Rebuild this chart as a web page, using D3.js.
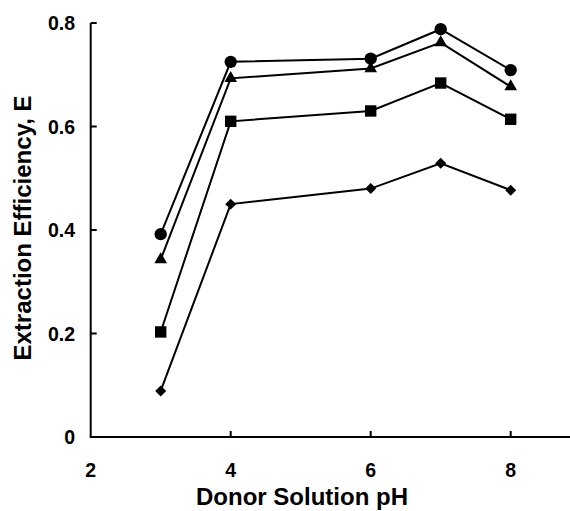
<!DOCTYPE html>
<html>
<head>
<meta charset="utf-8">
<script src="https://cdn.jsdelivr.net/npm/d3@7"></script>
<style>
  body { margin: 0; background: #fff; }
  svg { display: block; }
</style>
</head>
<body>
<div id="chart-area"></div>
<script>
// data
var ph = [3, 4, 6, 7, 8];
var circleVals   = [0.392, 0.725, 0.731, 0.788, 0.709];
var triangleVals = [0.343, 0.693, 0.712, 0.762, 0.677];
var squareVals   = [0.203, 0.610, 0.630, 0.684, 0.614];
var diamondVals  = [0.089, 0.450, 0.480, 0.529, 0.477];
var xTicks = [2, 4, 6, 8];
var yTicks = [0, 0.2, 0.4, 0.6, 0.8];

var series = [
    { name: "circle",   values: circleVals },
    { name: "triangle", values: triangleVals },
    { name: "square",   values: squareVals },
    { name: "diamond",  values: diamondVals }
];

var W = 570, H = 511;
var FONT = "Arial, 'Liberation Sans', Helvetica, sans-serif";

var svg = d3.select("#chart-area")
    .append("svg")
        .attr("width", W)
        .attr("height", H)
        .attr("font-family", FONT)
        .attr("font-weight", "bold");

// x scale (axis runs off the right edge)
var x = d3.scaleLinear()
    .domain([2, 9])
    .range([90.7, 580.7]);

// y scale
var y = d3.scaleLinear()
    .domain([0, 0.8])
    .range([437, 23]);

// axes lines
svg.append("line")
    .attr("x1", x(2) - 1).attr("x2", W)
    .attr("y1", y(0)).attr("y2", y(0))
    .attr("stroke", "#000").attr("stroke-width", 2);

svg.append("line")
    .attr("x1", x(2)).attr("x2", x(2))
    .attr("y1", y(0)).attr("y2", y(0.8))
    .attr("stroke", "#000").attr("stroke-width", 2);

// ticks pointing inward
svg.selectAll(".xtick")
    .data(xTicks.slice(1))
    .enter().append("line")
        .attr("class", "xtick")
        .attr("x1", function(d){ return x(d); })
        .attr("x2", function(d){ return x(d); })
        .attr("y1", y(0)).attr("y2", y(0) - 6)
        .attr("stroke", "#000").attr("stroke-width", 2);

svg.selectAll(".ytick")
    .data(yTicks.slice(1))
    .enter().append("line")
        .attr("class", "ytick")
        .attr("x1", x(2)).attr("x2", x(2) + 6)
        .attr("y1", function(d){ return y(d); })
        .attr("y2", function(d){ return y(d); })
        .attr("stroke", "#000").attr("stroke-width", 2);

// tick labels
svg.selectAll(".xlabel")
    .data(xTicks)
    .enter().append("text")
        .attr("class", "xlabel")
        .attr("x", function(d){ return x(d); })
        .attr("y", 477)
        .attr("font-size", "19.5px")
        .attr("text-anchor", "middle")
        .text(function(d){ return d; });

svg.selectAll(".ylabel")
    .data(yTicks)
    .enter().append("text")
        .attr("class", "ylabel")
        .attr("x", 75)
        .attr("y", function(d){ return y(d) + 7; })
        .attr("font-size", "19.5px")
        .attr("text-anchor", "end")
        .text(function(d){ return d === 0 ? "0" : d3.format(".1f")(d); });

// X Label
svg.append("text")
    .attr("x", 302)
    .attr("y", 505)
    .attr("font-size", "24px")
    .attr("text-anchor", "middle")
    .text("Donor Solution pH");

// Y Label
svg.append("text")
    .attr("transform", "translate(31,228) rotate(-90)")
    .attr("font-size", "24px")
    .attr("text-anchor", "middle")
    .text("Extraction Efficiency, E");

// lines
var line = d3.line()
    .x(function(d, i){ return x(ph[i]); })
    .y(function(d){ return y(d); });

svg.selectAll(".series")
    .data(series)
    .enter().append("path")
        .attr("class", "series")
        .attr("d", function(s){ return line(s.values); })
        .attr("fill", "none")
        .attr("stroke", "#000")
        .attr("stroke-width", 2);

// markers
var symbols = {
    circle:   d3.symbol().type(d3.symbolCircle).size(120),
    triangle: d3.symbol().type(d3.symbolTriangle).size(70),
    square:   d3.symbol().type(d3.symbolSquare).size(130),
    diamond:  d3.symbol().type(d3.symbolSquare).size(60)
};

series.forEach(function(s){
    svg.selectAll(".m-" + s.name)
        .data(s.values)
        .enter().append("path")
            .attr("class", "m-" + s.name)
            .attr("d", symbols[s.name]())
            .attr("transform", function(d, i){
                var t = "translate(" + x(ph[i]) + "," + y(d) + ")";
                return s.name === "diamond" ? t + " rotate(45)" : t;
            })
            .attr("fill", "#000");
});
</script>
</body>
</html>
